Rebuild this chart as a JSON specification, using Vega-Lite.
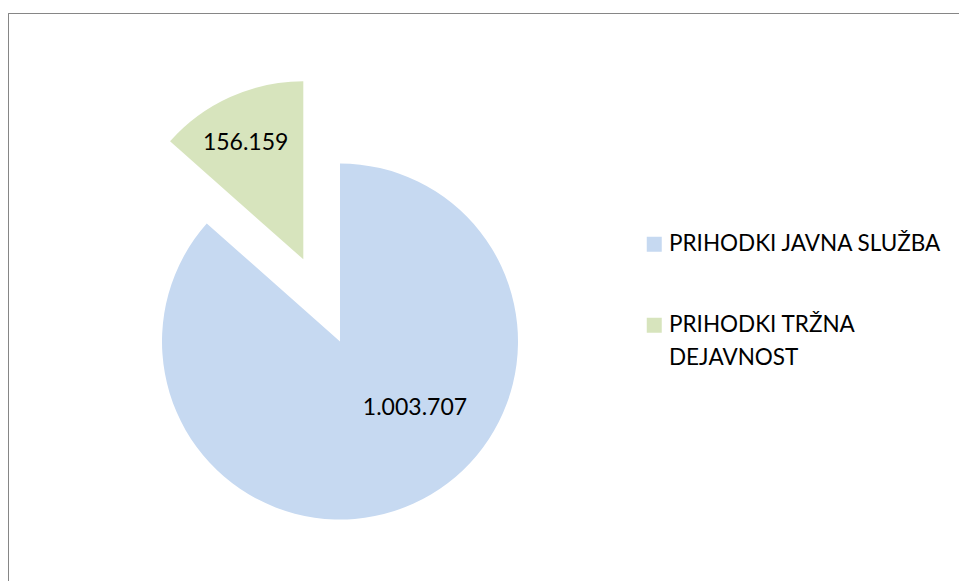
{
  "$schema": "https://vega.github.io/schema/vega-lite/v6.json",
  "width": 951,
  "height": 569,
  "autosize": {"type": "none"},
  "padding": {"left": 8.5, "top": 13.5, "right": 0, "bottom": 0},
  "background": "white",
  "config": {
    "view": {"stroke": null},
    "locale": {"number": {"decimal": ",", "thousands": ".", "grouping": [3], "currency": ["", ""]}},
    "font": "Lato",
    "style": {"guide-label": {"lineHeight": 33}}
  },
  "data": {
    "values": [
      {"category": "PRIHODKI JAVNA SLUŽBA", "value": 1003707},
      {"category": "PRIHODKI TRŽNA DEJAVNOST", "value": 156159}
    ]
  },
  "layer": [
    {
      "mark": {"type": "rect", "fill": null, "stroke": "#868686", "strokeWidth": 1},
      "encoding": {}
    },
    {
      "mark": {"type": "arc", "radius": 178, "xOffset": -144, "yOffset": 43.5},
      "encoding": {
        "theta": {"field": "value", "type": "quantitative", "stack": true},
        "order": {"field": "category", "sort": "ascending"},
        "color": {
          "field": "category",
          "type": "nominal",
          "scale": {"domain": ["PRIHODKI JAVNA SLUŽBA", "PRIHODKI TRŽNA DEJAVNOST"], "range": ["#C6D9F1", "#D7E4BD"]},
          "legend": {
            "orient": "none",
            "legendX": 634.5,
            "legendY": 219.5,
            "title": null,
            "symbolType": "square",
            "symbolSize": 225,
            "symbolStrokeWidth": 0,
            "labelFont": "Lato",
            "labelFontSize": 22.5,
            "labelColor": "#000000",
            "labelOffset": 3.5,
            "labelLimit": 0,
            "rowPadding": 58,
            "labelExpr": "datum.label == 'PRIHODKI TRŽNA DEJAVNOST' ? ['PRIHODKI TRŽNA', 'DEJAVNOST'] : datum.label"
          }
        },
        "opacity": {"condition": {"test": "datum.category === 'PRIHODKI JAVNA SLUŽBA'", "value": 1}, "value": 0}
      }
    },
    {
      "mark": {"type": "arc", "radius": 178, "xOffset": -180.7, "yOffset": -38.7},
      "encoding": {
        "theta": {"field": "value", "type": "quantitative", "stack": true},
        "order": {"field": "category", "sort": "ascending"},
        "color": {"field": "category", "type": "nominal"},
        "opacity": {"condition": {"test": "datum.category === 'PRIHODKI TRŽNA DEJAVNOST'", "value": 1}, "value": 0}
      }
    },
    {
      "mark": {"type": "text", "radius": 73, "xOffset": -99, "yOffset": 43.5, "font": "Lato", "fontSize": 23, "color": "#000000"},
      "encoding": {
        "theta": {"field": "value", "type": "quantitative", "stack": true},
        "order": {"field": "category", "sort": "ascending"},
        "detail": {"field": "category", "type": "nominal"},
        "text": {"field": "value", "type": "quantitative", "format": ",d"},
        "opacity": {"condition": {"test": "datum.category === 'PRIHODKI JAVNA SLUŽBA'", "value": 1}, "value": 0}
      }
    },
    {
      "mark": {"type": "text", "radius": 130, "xOffset": -185, "yOffset": -36.5, "font": "Lato", "fontSize": 23, "color": "#000000"},
      "encoding": {
        "theta": {"field": "value", "type": "quantitative", "stack": true},
        "order": {"field": "category", "sort": "ascending"},
        "detail": {"field": "category", "type": "nominal"},
        "text": {"field": "value", "type": "quantitative", "format": ",d"},
        "opacity": {"condition": {"test": "datum.category === 'PRIHODKI TRŽNA DEJAVNOST'", "value": 1}, "value": 0}
      }
    }
  ]
}
